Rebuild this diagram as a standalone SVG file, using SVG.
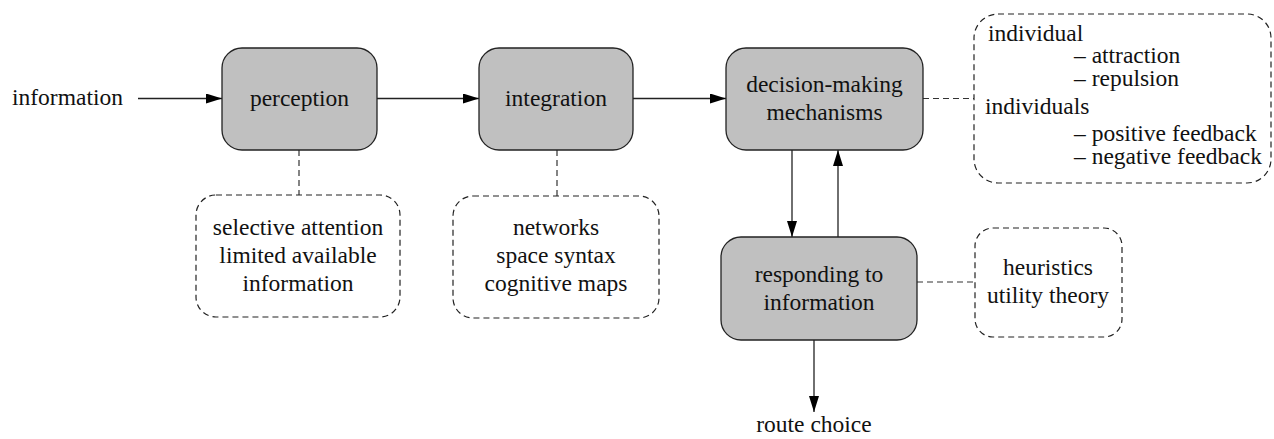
<svg xmlns="http://www.w3.org/2000/svg" width="1274" height="439" viewBox="0 0 1274 439">
<style>
text{font-family:'Liberation Serif','Times New Roman','DejaVu Serif',serif;font-size:23.5px;fill:#111}
.c{text-anchor:middle}
.proc{fill:#c0c0c0;stroke:#222;stroke-width:1.3}
.note{fill:#fff;stroke:#222;stroke-width:1.2;stroke-dasharray:6 4}
.arr{stroke:#222;stroke-width:1.3;fill:none;marker-end:url(#ah)}
.dl{stroke:#333;stroke-width:1.2;fill:none;stroke-dasharray:6 4}
</style>
<defs>
<marker id="ah" viewBox="0 0 16 10" refX="16" refY="5" markerWidth="16" markerHeight="10" markerUnits="userSpaceOnUse" orient="auto">
<path d="M0,0 L16,5 L0,10 Z" fill="#000"/>
</marker>
</defs>
<rect width="1274" height="439" fill="#fff"/>
<g id="connectors">
<line class="arr" x1="138" y1="98.5" x2="222" y2="98.5"/>
<line class="arr" x1="377" y1="98.5" x2="479" y2="98.5"/>
<line class="arr" x1="633" y1="98.5" x2="726" y2="98.5"/>
<line class="arr" x1="792" y1="150" x2="792" y2="237"/>
<line class="arr" x1="838" y1="237" x2="838" y2="150"/>
<line class="arr" x1="814" y1="340" x2="814" y2="412"/>
<line class="dl" x1="299" y1="150" x2="299" y2="195"/>
<line class="dl" x1="557" y1="150" x2="557" y2="196"/>
<line class="dl" x1="923" y1="98.5" x2="974" y2="98.5"/>
<line class="dl" x1="917" y1="282" x2="975" y2="282"/>
</g>
<g id="information-in"><text x="12" y="105" font-family="Liberation Serif, serif">information</text></g>
<g id="perception">
<rect class="proc" x="222" y="48" width="155" height="102" rx="20"/>
<text class="c" x="299.5" y="106">perception</text>
</g>
<g id="integration">
<rect class="proc" x="479" y="48" width="154" height="102" rx="20"/>
<text class="c" x="556" y="106">integration</text>
</g>
<g id="decision">
<rect class="proc" x="726" y="48" width="197" height="102" rx="20"/>
<text class="c" x="824.5" y="92">decision-making</text>
<text class="c" x="824.5" y="120">mechanisms</text>
</g>
<g id="responding">
<rect class="proc" x="721" y="237" width="196" height="103" rx="20"/>
<text class="c" x="819" y="282">responding to</text>
<text class="c" x="819" y="310">information</text>
</g>
<g id="route-choice"><text class="c" x="814" y="432">route choice</text></g>
<g id="perception-note">
<rect class="note" x="196" y="195" width="204" height="122" rx="20"/>
<text class="c" x="298" y="235">selective attention</text>
<text class="c" x="298" y="263">limited available</text>
<text class="c" x="298" y="291">information</text>
</g>
<g id="integration-note">
<rect class="note" x="453" y="196" width="206" height="122" rx="20"/>
<text class="c" x="556" y="235">networks</text>
<text class="c" x="556" y="263">space syntax</text>
<text class="c" x="556" y="291">cognitive maps</text>
</g>
<g id="decision-note">
<rect class="note" x="974" y="14" width="297" height="169" rx="24"/>
<text x="988" y="41">individual</text>
<text x="1074" y="63">– attraction</text>
<text x="1074" y="86">– repulsion</text>
<text x="985" y="114">individuals</text>
<text x="1074" y="141">– positive feedback</text>
<text x="1074" y="164">– negative feedback</text>
</g>
<g id="responding-note">
<rect class="note" x="975" y="228" width="147" height="109" rx="18"/>
<text class="c" x="1048" y="275">heuristics</text>
<text class="c" x="1048" y="303">utility theory</text>
</g>
</svg>
